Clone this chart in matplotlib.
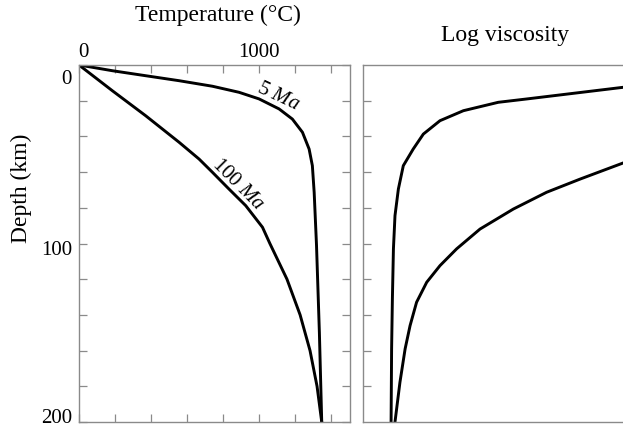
import numpy as np
import matplotlib.pyplot as plt
from matplotlib.transforms import ScaledTranslation

plt.rcParams['font.family'] = ['Liberation Serif', 'DejaVu Serif']
plt.rcParams['mathtext.fontset'] = 'custom'
plt.rcParams['mathtext.it'] = 'Liberation Serif:italic'
plt.rcParams['mathtext.rm'] = 'Liberation Serif'

# temperature profiles
depth_5ma = [0, 3.2, 6.0, 8.8, 11.9, 15.3, 19.0, 24.6, 30.3, 37.7, 47.1, 56.4, 71.3, 101, 150, 200]
temp_5ma = [0, 185, 370, 556, 741, 889, 1000, 1111, 1185, 1241, 1278, 1296, 1306, 1319, 1335, 1348]

depth_100ma = [0, 14.4, 28.4, 43.3, 52.7, 60.1, 69.5, 78.8, 90.9, 100, 120, 140, 160, 180, 200]
temp_100ma = [0, 185, 370, 556, 667, 741, 833, 926, 1019, 1060, 1155, 1228, 1283, 1322, 1348]

# log viscosity (arbitrary units, no scale on the original)
depth_v5 = [12.5, 19, 20.9, 25.6, 31.2, 38.7, 47.1, 56.4, 69.5, 84.4, 103, 131, 159, 200]
visc_5 = [10, 6.31, 5.2, 3.86, 2.96, 2.32, 1.93, 1.55, 1.36, 1.23, 1.17, 1.13, 1.10, 1.08]

depth_v100 = [54.9, 63.9, 71.3, 80.7, 91.9, 103, 112.4, 121.7, 132.9, 146, 159, 177.8, 200]
visc_100 = [10, 8.35, 7.06, 5.78, 4.5, 3.6, 2.96, 2.45, 2.06, 1.81, 1.62, 1.42, 1.23]

grey = '#8a8a8a'
W, H = 623, 427
fig = plt.figure(figsize=(W / 100, H / 100), dpi=100)

ax1 = fig.add_axes([79 / W, 4 / H, 271 / W, 357 / H])
ax2 = fig.add_axes([363 / W, 4 / H, 284 / W, 357 / H])

ax1.plot(temp_5ma, depth_5ma, color='black', lw=2.1, solid_joinstyle='round')
ax1.plot(temp_100ma, depth_100ma, color='black', lw=2.1, solid_joinstyle='round')
ax1.set_xlim(0, 1505)
ax1.set_ylim(200, 0)
ax1.set_xticks(np.arange(0, 1501, 200), minor=True)
ax1.set_xticks([0, 1000])
ax1.set_yticks(np.arange(0, 201, 20), minor=True)
ax1.set_yticks([0, 100, 200])
ax1.xaxis.tick_top()
ax1.tick_params(which='both', direction='in', length=6, width=0.9, color=grey,
                top=True, bottom=True, left=True, right=True, labelsize=15)
ax1.tick_params(axis='x', pad=3)
ax1.tick_params(axis='y', pad=5)

# nudge tick labels the way they sit in the original
fig.canvas.draw()
y_shift = {'0': -11, '100': -4, '200': 7}
for lab in ax1.get_yticklabels():
    dy = y_shift.get(lab.get_text(), 0)
    lab.set_transform(lab.get_transform() + ScaledTranslation(0, dy / 100, fig.dpi_scale_trans))
for lab in ax1.get_xticklabels():
    if lab.get_text() == '0':
        lab.set_transform(lab.get_transform() + ScaledTranslation(4 / 100, 0, fig.dpi_scale_trans))

ax1.text(1103, 17.2, r'5 $\it{Ma}$', fontsize=15, rotation=-25, ha='center', va='center')
ax1.text(884, 66.5, r'100 $\it{Ma}$', fontsize=15, rotation=-45, ha='center', va='center')

ax2.plot(visc_5, depth_v5, color='black', lw=2.1, solid_joinstyle='round')
ax2.plot(visc_100, depth_v100, color='black', lw=2.1, solid_joinstyle='round')
ax2.set_xlim(0, 10.92)
ax2.set_ylim(200, 0)
ax2.set_xticks([])
ax2.set_yticks(np.arange(20, 200, 20))
ax2.set_yticklabels([])
ax2.tick_params(direction='in', length=6, width=0.9, color=grey, left=True)
ax2.spines['right'].set_visible(False)

for ax in (ax1, ax2):
    for s in ax.spines.values():
        s.set_color(grey)
        s.set_linewidth(1.0)

fig.text(218 / W, 1 - 15 / H, 'Temperature (°C)', fontsize=17, ha='center', va='center')
fig.text(505 / W, 1 - 35 / H, 'Log viscosity', fontsize=17, ha='center', va='center')
fig.text(21 / W, 1 - 188 / H, 'Depth (km)', rotation=90, fontsize=17, ha='center', va='center')

fig.savefig('out.png', dpi=100)
